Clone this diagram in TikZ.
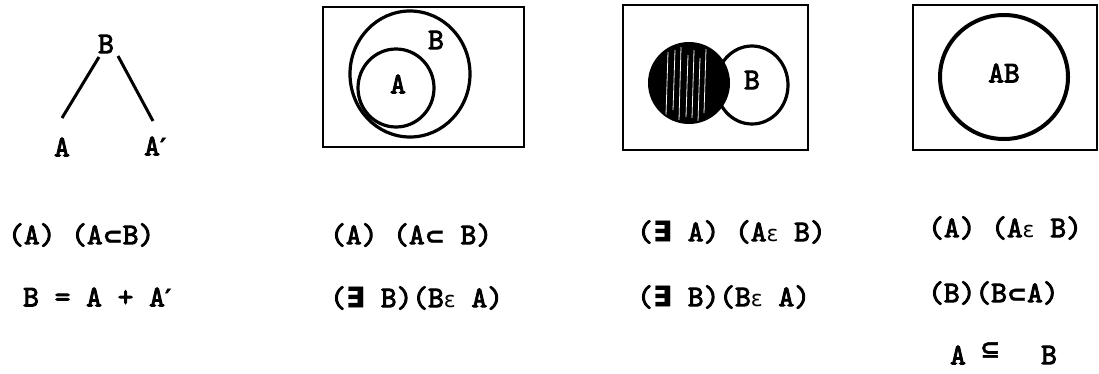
\documentclass[tikz,border=0pt]{standalone}
\usepackage{fontspec}
\newfontfamily\tw{lmmono10-regular}[Extension=.otf, FakeBold=3]
\newfontfamily\sym{DejaVu Sans}
\newfontfamily\symb{DejaVu Sans Bold}[FakeBold=1.5]
\usetikzlibrary{calc}
\tikzset{
  txt/.style={font=\tw\fontsize{30}{34}\selectfont, inner sep=0pt, anchor=west},
  lab/.style={font=\tw\fontsize{30}{34}\selectfont, inner sep=0pt},
  frame/.style={draw, line width=2.6pt},
  ring/.style={draw, line width=3.2pt},
  edge/.style={line width=3pt}
}
\newcommand{\sbs}{{\symb\fontsize{24}{30}\selectfont ⊂}}
\newcommand{\sbe}{{\symb\fontsize{24}{30}\selectfont ⊆}}
\newcommand{\ex}{{\symb\fontsize{28}{30}\selectfont ∃}}
\newcommand{\ep}{{\sym\fontsize{22}{30}\selectfont ε}}
\newcommand{\pr}{{\symb\fontsize{24}{30}\selectfont ′}}
\begin{document}
\begin{tikzpicture}[x=1pt,y=-1pt]
\useasboundingbox (0,0) rectangle (1099,373);
% panel 1: tree
\node[lab] (tB) at (106,44) {B};
\node[lab] (tA) at (62,147) {A};
\node[txt] (tA2) at (144,146) {A\pr};
\draw[edge] ($(tB)+(-7,13)$) -- ($(tA)+(0,-29)$);
\draw[edge] ($(tB)+(12,12)$) -- ($(tA2.west)+(9,-25)$);
% panel 2
\draw[frame] (323,7) rectangle (524,147);
\draw[ring] (410,74) ellipse [x radius=60, y radius=63];
\draw[ring] (396,88) ellipse [x radius=38, y radius=39];
\node[lab] (p2A) at (398,84) {A};
\node[lab] (p2B) at (436,40) {B};
% panel 3
\draw[frame] (623,5) rectangle (808,150);
\draw[ring] (752,85) ellipse [x radius=36, y radius=39];
\fill (689,83) circle [radius=41];
\begin{scope}
\clip (689,83) circle [radius=39];
\foreach \x/\a/\b in {668/52/115, 675/50/110, 681/47/120, 688/55/117, 694/50/118, 700/58/121, 706/49/113}
  \draw[white, line width=0.8pt] (\x,\a) -- (\x-2,\b);
\end{scope}
\node[lab] (p3B) at (752,80) {B};
% panel 4
\draw[frame] (913,5) rectangle (1097,150);
\draw[ring, line width=4pt] (1004,77) ellipse [x radius=64, y radius=62];
\node[lab] (p4AB) at (1004,73) {AB};
% formulas
\node[txt] (f11) at (8,235) {(A) (A\sbs B)};
\node[txt] (f12) at (23,297) {B = A + A\pr};
\node[txt] (f21) at (330,235) {(A) (A\sbs\ B)};
\node[txt] (f22) at (330,298) {(\ex\ B)(B\ep\ A)};
\node[txt] (f31) at (637,232) {(\ex\ A) (A\ep\ B)};
\node[txt] (f32) at (637,297) {(\ex\ B)(B\ep\ A)};
\node[txt] (f41) at (928,228) {(A) (A\ep\ B)};
\node[txt] (f42) at (928,293) {(B)(B\sbs A)};
\node[lab] (f43a) at (958,355) {A};
\node[lab] (f43b) at (990,350) {\sbe};
\node[lab] (f43c) at (1049,355) {B};
\end{tikzpicture}
\end{document}
